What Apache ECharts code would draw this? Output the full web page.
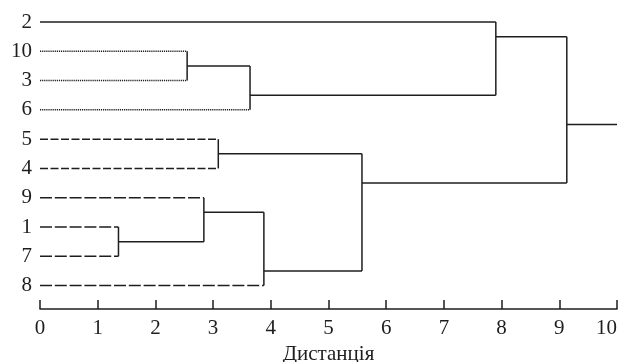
<!DOCTYPE html>
<html>
<head>
<meta charset="utf-8">
<script src="https://cdn.jsdelivr.net/npm/echarts@6/dist/echarts.min.js"></script>
<style>
  html, body { margin: 0; padding: 0; background: #fff; }
  #chart { width: 623px; height: 362px; }
</style>
</head>
<body>
<div id="chart"></div>
<script>
// leaves top to bottom, and the dash group of each leaf line
const leaves = ['2', '10', '3', '6', '5', '4', '9', '1', '7', '8']
const leafGroup = ['solid', 'dot', 'dot', 'dot', 'short', 'short', 'long', 'long', 'long', 'long']

// merges: node ids 0..9 are leaves, merge k gets id 10 + k
const mergeA = [1, 10, 4, 7, 6, 14, 12, 0, 17]
const mergeB = [2, 3, 5, 8, 13, 9, 15, 11, 16]
const mergeH = [2.55, 3.64, 3.09, 1.36, 2.84, 3.88, 5.58, 7.90, 9.13]
const rootEnd = 10

const ink = '#1e1e1e'
const dash = {
  solid: 'solid',
  dot: [1.2, 0.9],
  short: [8, 2.5],
  long: [12, 2.8]
}

// node heights, positions and leaf ranges
const nodes = leaves.map((name, i) => ({ h: 0, y: i, lo: i, hi: i, group: leafGroup[i] }))
mergeH.forEach((h, k) => {
  const a = nodes[mergeA[k]]
  const b = nodes[mergeB[k]]
  nodes.push({ h, y: b.lo - 0.5, lo: a.lo, hi: b.hi, group: 'solid', a: mergeA[k], b: mergeB[k] })
})
const parentH = {}
mergeA.forEach((a, k) => { parentH[a] = mergeH[k]; parentH[mergeB[k]] = mergeH[k] })
parentH[nodes.length - 1] = rootEnd

function seg(points, type) {
  return {
    type: 'line',
    data: points,
    symbol: 'none',
    clip: false,
    silent: true,
    lineStyle: { color: ink, width: 1.5, type: type }
  }
}

const series = []
nodes.forEach((n, id) => {
  // horizontal from node height to parent height
  series.push(seg([[n.h, n.y], [parentH[id], n.y]], dash[n.group]))
  if (n.a !== undefined) {
    // vertical joining both children
    series.push(seg([[n.h, nodes[n.a].y], [n.h, nodes[n.b].y]], 'solid'))
  }
})

const chart = echarts.init(document.getElementById('chart'))
chart.setOption({
  animation: false,
  grid: { left: 40, right: 6, top: 22, bottom: 53, outerBoundsMode: 'none' },
  xAxis: {
    type: 'value',
    min: 0,
    max: 10,
    interval: 1,
    name: 'Дистанція',
    nameLocation: 'middle',
    nameGap: 34,
    nameTextStyle: { fontFamily: 'Liberation Serif', fontSize: 21, color: ink },
    axisLine: { onZero: false, lineStyle: { color: ink, width: 1.5 } },
    axisTick: { inside: true, length: 9, lineStyle: { color: ink, width: 1.5 } },
    axisLabel: { fontFamily: 'Liberation Serif', fontSize: 21, color: ink, margin: 9, alignMaxLabel: 'right' },
    splitLine: { show: false }
  },
  yAxis: {
    type: 'value',
    inverse: true,
    min: 0,
    max: 9.8,
    axisLine: { show: false },
    axisTick: { show: false },
    splitLine: { show: false },
    axisLabel: {
      customValues: leaves.map((_, i) => i),
      formatter: v => leaves[Math.round(v)],
      fontFamily: 'Liberation Serif',
      fontSize: 21,
      color: ink,
      margin: 8
    }
  },
  series
})
</script>
</body>
</html>
